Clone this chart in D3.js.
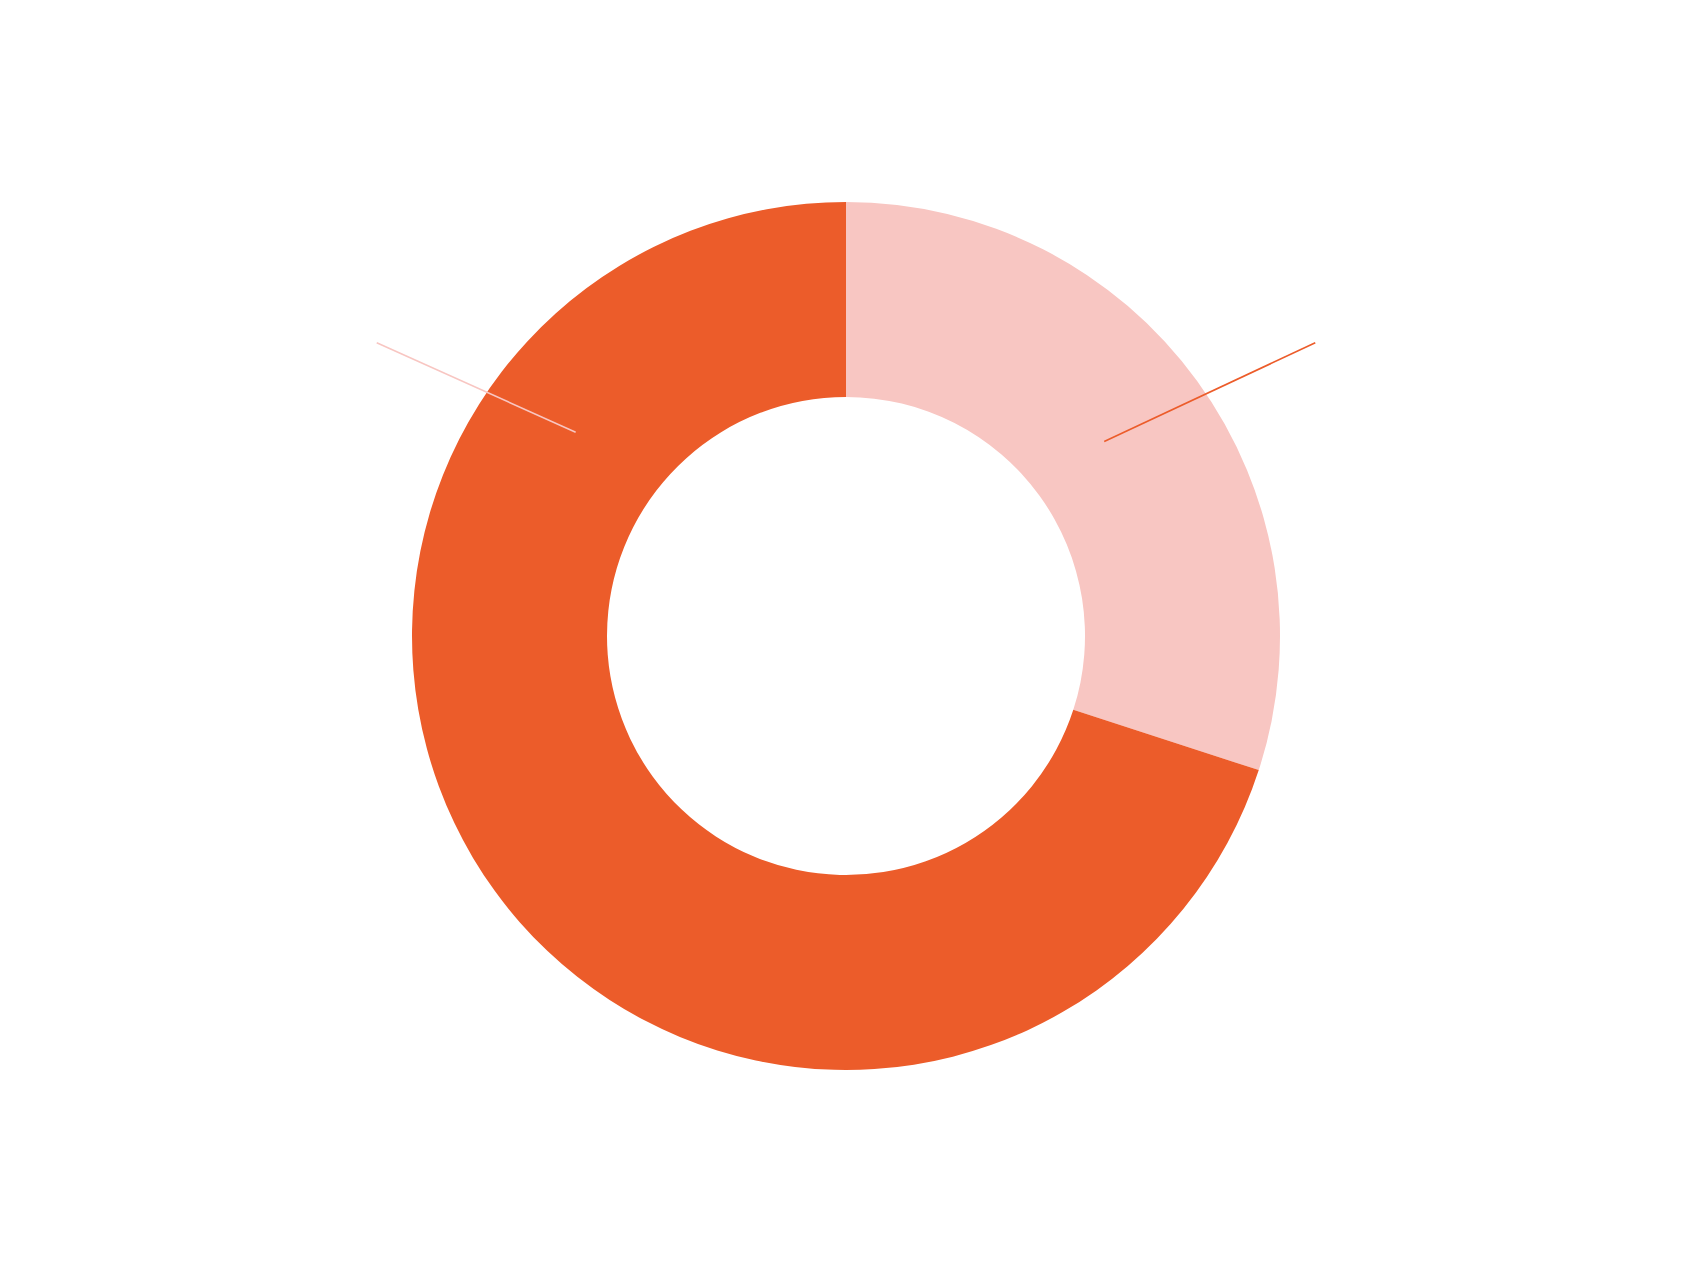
<!DOCTYPE html>
<html>
<head>
<meta charset="utf-8">
<script src="https://cdn.jsdelivr.net/npm/d3@7"></script>
<style>
  html, body { margin: 0; padding: 0; background: #fff; }
  svg { display: block; }
</style>
</head>
<body>
<script>
// slice data, clockwise from 12 o'clock
var categories = ['A', 'B'];
var values = [30, 70];
var sliceColors = ['#F8C6C2', '#EC5C2A'];

var width = 1700,
    height = 1275,
    cx = 846,
    cy = 636,
    outerR = 434,
    innerR = 239;

var svg = d3.select('body').append('svg')
    .attr('width', width)
    .attr('height', height)
    .attr('shape-rendering', 'geometricPrecision');

var g = svg.append('g').attr('transform', 'translate(' + cx + ',' + cy + ')');

var pie = d3.pie().sort(null).value(function (d) { return d; });
var arcs = pie(values);

var arc = d3.arc().innerRadius(innerR).outerRadius(outerR);

g.selectAll('path.slice')
    .data(arcs)
    .enter().append('path')
    .attr('class', 'slice')
    .attr('d', arc)
    .attr('fill', function (d, i) { return sliceColors[i]; });

// leader lines: both hang off the first slice's mid angle, second one mirrored,
// each drawn in the colour of the other slice
var mid = (arcs[0].startAngle + arcs[0].endAngle) / 2,
    deg = Math.PI / 180;

g.selectAll('line.leader')
    .data(arcs)
    .enter().append('line')
    .attr('class', 'leader')
    .each(function (d, i) {
        var side = i === 0 ? 1 : -1,
            p0 = d3.pointRadial(side * (mid - 1 * deg), outerR * (i === 0 ? 0.745 : 0.78)),
            p1 = d3.pointRadial(side * (mid + 4 * deg), outerR * 1.275);
        d3.select(this)
            .attr('x1', p0[0]).attr('y1', p0[1])
            .attr('x2', p1[0]).attr('y2', p1[1]);
    })
    .attr('stroke', function (d, i) { return sliceColors[(i + 1) % 2]; })
    .attr('stroke-width', 1.6);
</script>
</body>
</html>
